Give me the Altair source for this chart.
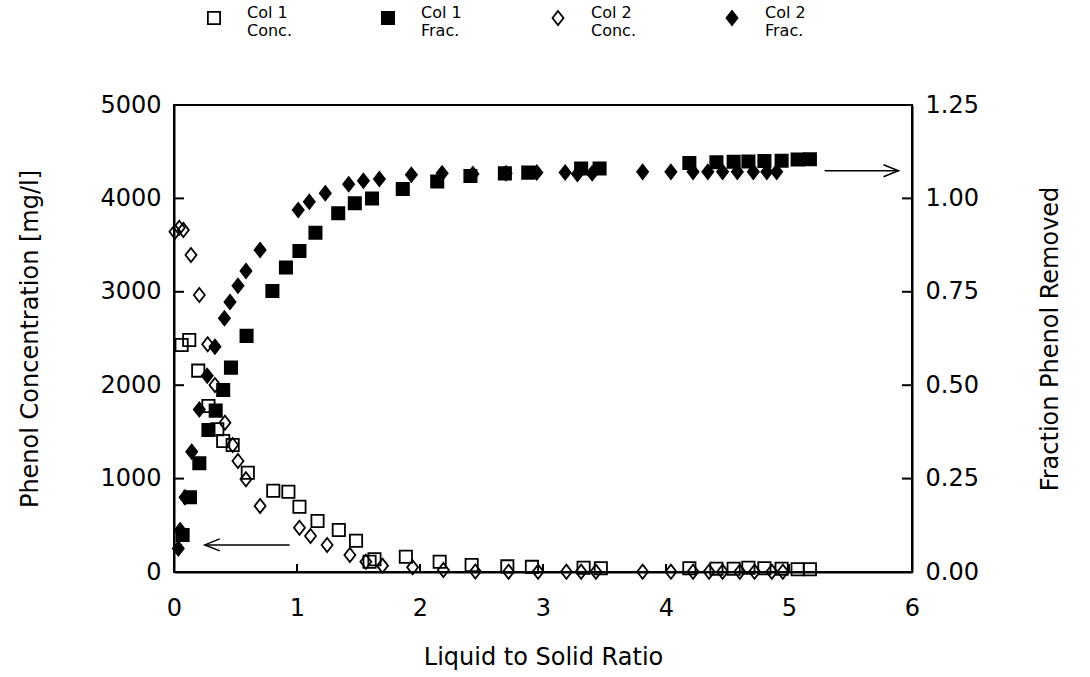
import altair as alt
import pandas as pd

FONT = "DejaVu Sans"

# ---------------- data ----------------
# Column 1, phenol concentration [mg/l] (open squares)
c1_conc_x = [0.062, 0.124, 0.197, 0.28, 0.352, 0.40, 0.477, 0.60, 0.807, 0.93, 1.02, 1.167,
             1.34, 1.48, 1.59, 1.63, 1.885, 2.16, 2.42, 2.71, 2.91, 3.33, 3.47,
             4.19, 4.41, 4.55, 4.67, 4.80, 4.94, 5.07, 5.17]
c1_conc_y = [2430, 2484, 2156, 1777, 1528, 1403, 1360, 1063, 870, 860, 699, 546,
             450, 335, 110, 136, 164, 110, 75, 60, 55, 45, 40,
             40, 35, 35, 45, 40, 35, 30, 30]

# Column 1, fraction phenol removed (filled squares)
c1_frac_x = [0.07, 0.13, 0.206, 0.28, 0.339, 0.40, 0.463, 0.59, 0.80, 0.91, 1.02, 1.15,
             1.335, 1.47, 1.61, 1.86, 2.14, 2.41, 2.69, 2.88, 3.31, 3.46,
             4.19, 4.41, 4.55, 4.67, 4.80, 4.94, 5.07, 5.17]
c1_frac_y = [0.099, 0.20, 0.291, 0.38, 0.432, 0.487, 0.547, 0.632, 0.752, 0.815, 0.859, 0.908,
             0.96, 0.987, 1.0, 1.025, 1.045, 1.06, 1.067, 1.069, 1.08, 1.08,
             1.095, 1.097, 1.098, 1.099, 1.100, 1.101, 1.104, 1.105]

# Column 2, phenol concentration [mg/l] (open diamonds)
c2_conc_x = [0.008, 0.043, 0.076, 0.138, 0.206, 0.274, 0.333, 0.414, 0.477, 0.52, 0.585, 0.70,
             1.02, 1.11, 1.245, 1.43, 1.56, 1.695, 1.94, 2.19, 2.45, 2.72, 2.96, 3.19,
             3.31, 3.43, 3.81, 4.04, 4.22, 4.35, 4.46, 4.60, 4.72, 4.86, 4.95]
c2_conc_y = [3643, 3686, 3662, 3394, 2966, 2438, 2002, 1599, 1360, 1188, 992, 707,
             474, 385, 289, 182, 110, 68, 50, 21, 5, 3, 3, 3,
             3, 3, 3, 3, 3, 3, 3, 3, 3, 3, 3]

# Column 2, fraction phenol removed (filled diamonds)
c2_frac_x = [0.035, 0.05, 0.09, 0.144, 0.206, 0.27, 0.333, 0.41, 0.455, 0.52, 0.585, 0.70,
             1.01, 1.10, 1.23, 1.42, 1.54, 1.67, 1.93, 2.18, 2.43, 2.70, 2.95, 3.18,
             3.28, 3.40, 3.81, 4.04, 4.22, 4.34, 4.46, 4.58, 4.71, 4.82, 4.90]
c2_frac_y = [0.063, 0.112, 0.20, 0.322, 0.435, 0.525, 0.603, 0.679, 0.723, 0.766, 0.806, 0.862,
             0.969, 0.991, 1.014, 1.038, 1.047, 1.052, 1.063, 1.067, 1.065, 1.067, 1.069, 1.069,
             1.065, 1.067, 1.071, 1.071, 1.071, 1.071, 1.071, 1.071, 1.071, 1.071, 1.071]

series = ["Col 1|Conc.", "Col 1|Frac.", "Col 2|Conc.", "Col 2|Frac."]

# axis tick values
x_ticks = [0, 1, 2, 3, 4, 5, 6]
conc_ticks = [0, 1000, 2000, 3000, 4000, 5000]
frac_ticks = [0.0, 0.25, 0.5, 0.75, 1.0, 1.25]

# annotation arrows (data units)
left_arrow_x = [0.25, 0.94]
left_arrow_y = 290
right_arrow_x = [5.29, 5.89]
right_arrow_y = 1.074

# ---------------- styling ----------------
W, H = 738, 467
DIAMOND = "M0,-1.15L0.9,0L0,1.15L-0.9,0Z"
shapes = ["square", "square", DIAMOND, DIAMOND]
fills = ["transparent", "black", "transparent", "black"]

conc_df = pd.concat([
    pd.DataFrame({"x": c1_conc_x, "conc": c1_conc_y, "series": series[0]}),
    pd.DataFrame({"x": c2_conc_x, "conc": c2_conc_y, "series": series[2]}),
])
frac_df = pd.concat([
    pd.DataFrame({"x": c1_frac_x, "frac": c1_frac_y, "series": series[1]}),
    pd.DataFrame({"x": c2_frac_x, "frac": c2_frac_y, "series": series[3]}),
])

legend = alt.Legend(
    orient="none", legendX=32, legendY=-95, direction="horizontal", columns=4,
    title=None, labelExpr="split(datum.label, '|')", labelFont=FONT, labelFontSize=16,
    labelColor="black", labelBaseline="alphabetic", symbolSize=150, symbolStrokeWidth=1.8,
    labelOffset=25, columnPadding=86, padding=0, labelLimit=200,
)
shape_enc = alt.Shape("series:N", scale=alt.Scale(domain=series, range=shapes), legend=legend)
fill_enc = alt.Fill("series:N", scale=alt.Scale(domain=series, range=fills), legend=legend)

x_axis = alt.Axis(values=x_ticks, title="Liquid to Solid Ratio", labelPadding=24,
                  labelFlush=False, titleY=92, titleBaseline="alphabetic")
x_enc = alt.X("x:Q", scale=alt.Scale(domain=[0, 6], nice=False), axis=x_axis)

conc_axis = alt.Axis(values=conc_ticks, orient="left", format="d",
                     title="Phenol Concentration [mg/l]",
                     labelPadding=13, titleX=-144, titleY=H / 2, titleAngle=270,
                     titleAlign="center", titleBaseline="middle")
y_conc = alt.Y("conc:Q", scale=alt.Scale(domain=[0, 5000], nice=False), axis=conc_axis)

frac_axis = alt.Axis(values=frac_ticks, orient="right", format=".2f",
                     title="Fraction Phenol Removed", labelPadding=13, titleX=138,
                     titleY=H / 2, titleAngle=270, titleAlign="center", titleBaseline="middle")
y_frac = alt.Y("frac:Q", scale=alt.Scale(domain=[0, 1.25], nice=False), axis=frac_axis)

# ---------------- concentration layer (left axis) ----------------
conc_points = alt.Chart(conc_df).mark_point(size=150, strokeWidth=1.8, opacity=1).encode(
    x=x_enc, y=y_conc, shape=shape_enc, fill=fill_enc, stroke=alt.value("black"))

left_ticks = alt.Chart(pd.DataFrame({"conc": conc_ticks})).mark_rule(
    color="black", strokeWidth=2).encode(y=y_conc, x=alt.value(0), x2=alt.value(10))

bottom_ticks = alt.Chart(pd.DataFrame({"x": x_ticks})).mark_rule(
    color="black", strokeWidth=2).encode(x=x_enc, y=alt.value(H), y2=alt.value(H - 8))

la_df = pd.DataFrame({"x": [left_arrow_x[0]], "x2": [left_arrow_x[1]], "conc": [left_arrow_y]})
left_shaft = alt.Chart(la_df).mark_rule(color="black", strokeWidth=1.5).encode(
    x=x_enc, x2="x2:Q", y=y_conc)
left_head = alt.Chart(la_df).mark_point(
    shape="M2.5,-1L0,0L2.5,1", size=144, filled=False, color="black",
    strokeWidth=1.5, opacity=1).encode(x=x_enc, y=y_conc)

conc_layer = alt.layer(left_ticks, bottom_ticks, left_shaft, left_head, conc_points)

# ---------------- fraction layer (right axis) ----------------
frac_points = alt.Chart(frac_df).mark_point(size=150, strokeWidth=1.8, opacity=1).encode(
    x=x_enc, y=y_frac, shape=shape_enc, fill=fill_enc, stroke=alt.value("black"))

right_ticks = alt.Chart(pd.DataFrame({"frac": frac_ticks})).mark_rule(
    color="black", strokeWidth=2).encode(y=y_frac, x=alt.value(W - 10), x2=alt.value(W))

ra_df = pd.DataFrame({"x": [right_arrow_x[0]], "x2": [right_arrow_x[1]], "frac": [right_arrow_y]})
right_shaft = alt.Chart(ra_df).mark_rule(color="black", strokeWidth=1.5).encode(
    x=x_enc, x2="x2:Q", y=y_frac)
right_head = alt.Chart(ra_df.assign(x=right_arrow_x[1])).mark_point(
    shape="M-2.5,-1L0,0L-2.5,1", size=144, filled=False, color="black",
    strokeWidth=1.5, opacity=1).encode(x=x_enc, y=y_frac)

frac_layer = alt.layer(right_ticks, right_shaft, right_head, frac_points)

chart = alt.layer(conc_layer, frac_layer).resolve_scale(y="independent").properties(
    width=W, height=H, autosize="none",
    padding={"left": 174, "top": 105, "right": 178, "bottom": 105},
    background="white",
).configure_view(stroke="black", strokeWidth=2).configure_axis(
    labelFont=FONT, titleFont=FONT, labelFontSize=24, titleFontSize=24,
    titleFontWeight="normal", labelColor="black", titleColor="black",
    domainColor="black", domainWidth=2, ticks=False, tickSize=0, grid=False,
)

chart.save("out.html", embed_options={"renderer": "svg", "actions": False})
